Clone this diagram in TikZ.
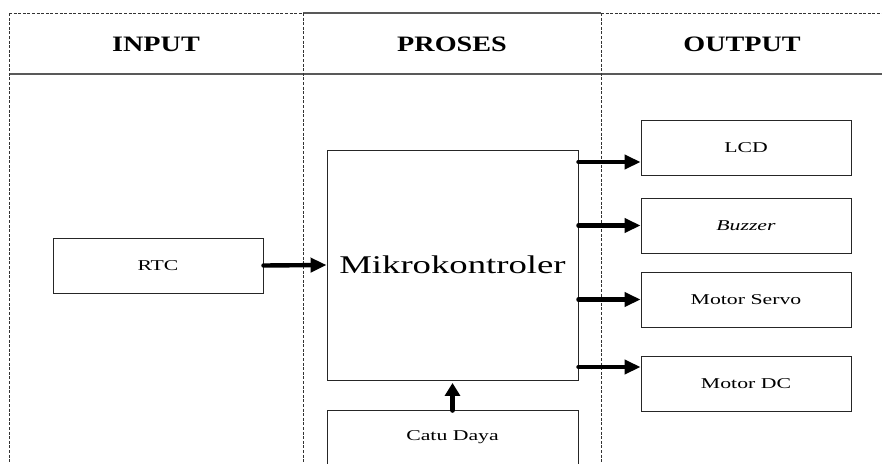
\documentclass[tikz,border=0pt]{standalone}
\usepackage{fontspec}
\setmainfont{Liberation Serif}
\newfontfamily\smallfnt[FakeStretch=1.45]{Liberation Serif}
\newfontfamily\bigfnt[FakeStretch=1.44]{Liberation Serif}
\newfontfamily\hdrfnt[FakeStretch=1.28]{Liberation Serif}
\usetikzlibrary{arrows.meta}
\begin{document}
\begin{tikzpicture}[x=1pt,y=-1pt,
  blk/.style={draw=black!85, line width=0.9pt, minimum width=210pt, minimum height=55pt,
    inner sep=0pt, font=\smallfnt\fontsize{15}{17}\selectfont},
  hdr/.style={font=\hdrfnt\bfseries\fontsize{22}{24}\selectfont, inner sep=0pt},
  divline/.style={draw=black!80, line width=0.8pt, dash pattern=on 3pt off 1.6pt},
  hline/.style={draw=black!65, line width=1.2pt},
  harr/.style={line width=4.4pt, line cap=round, -{Triangle[length=16pt,width=14pt]}},
  varr/.style={line width=5.5pt, line cap=round, shorten >=2.5pt, -{Triangle[length=13pt,width=15pt]}}]
\useasboundingbox (0,0) rectangle (882,463);
% header and columns
\draw[divline] (9,13) -- (303,13);
\draw[hline] (303,13) -- (601,13);
\draw[divline] (601,13) -- (882,13);
\draw[hline] (9,74) -- (882,74);
\draw[divline] (9,13) -- (9,463);
\draw[divline] (303,13) -- (303,463);
\draw[divline] (601,13) -- (601,463);
\node[hdr] (hin) at (156,44) {INPUT};
\node[hdr] (hpr) at (452,44) {PROSES};
\node[hdr] (hout) at (742,44) {OUTPUT};
% blocks
\node[blk] (rtc) at (158,265.5) {RTC};
\node[blk, minimum width=251pt, minimum height=230pt,
  font=\bigfnt\fontsize{25.5}{28}\selectfont] (mikro) at (452.5,265) {Mikrokontroler};
\node[blk, minimum width=251pt, minimum height=54pt] (catu) at (452.5,437.5) {\raisebox{-1.5pt}{Catu Daya}};
\node[blk] (lcd) at (746,147.5) {LCD};
\node[blk] (buzzer) at (746,225.5) {\itshape Buzzer};
\node[blk] (servo) at (746,299.5) {Motor Servo};
\node[blk] (dc) at (746,383.5) {Motor DC};
% connectors
\coordinate (lcdin) at ([yshift=-14.5pt]lcd.west);
\coordinate (dcin) at ([yshift=16.5pt]dc.west);
\draw[harr] (rtc.east) -- (mikro.west);
\draw[varr] (catu.north) -- (mikro.south);
\draw[harr] (mikro.east |- lcdin) -- (lcdin);
\draw[harr] (mikro.east |- buzzer.west) -- (buzzer.west);
\draw[harr] (mikro.east |- servo.west) -- (servo.west);
\draw[harr] (mikro.east |- dcin) -- (dcin);
\end{tikzpicture}
\end{document}
